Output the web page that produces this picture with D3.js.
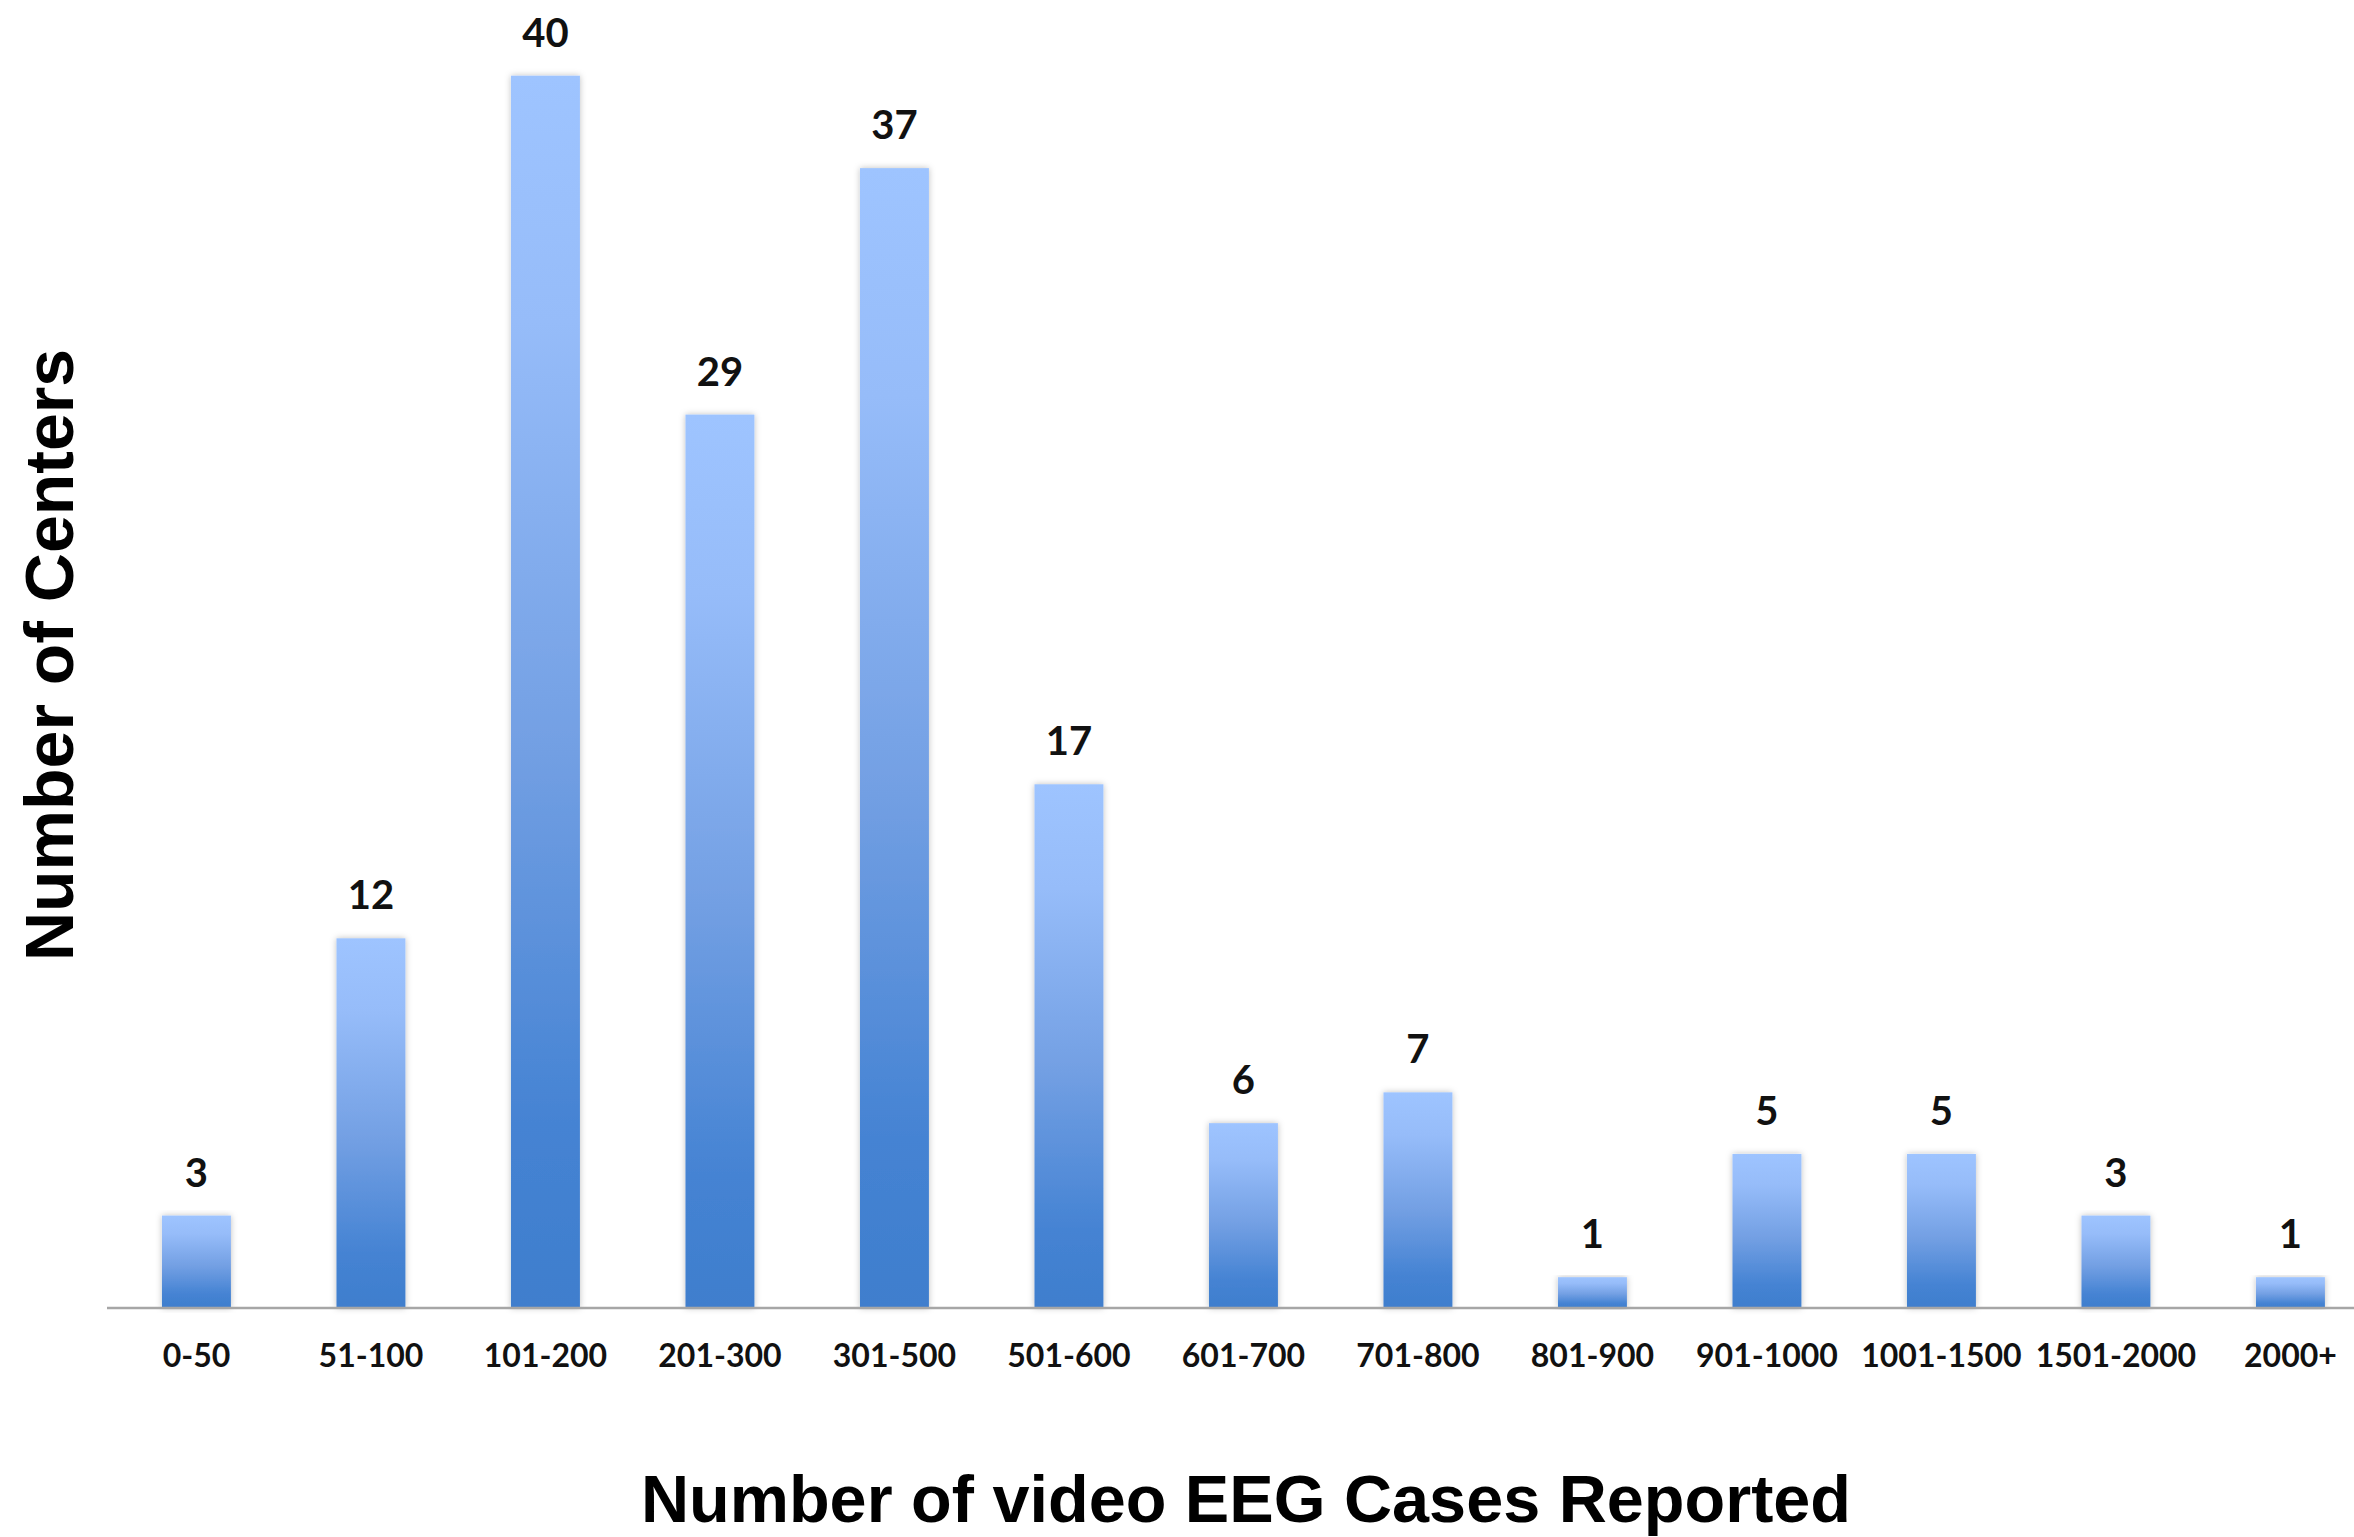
<!DOCTYPE html>
<html>
<head>
<meta charset="utf-8">
<script src="https://cdn.jsdelivr.net/npm/d3@7"></script>
<style>
  html, body { margin: 0; padding: 0; background: #fff; }
  svg { display: block; }
</style>
</head>
<body>
<script>
const categories = ["0-50", "51-100", "101-200", "201-300", "301-500", "501-600", "601-700", "701-800", "801-900", "901-1000", "1001-1500", "1501-2000", "2000+"];
const centers = [3, 12, 40, 29, 37, 17, 6, 7, 1, 5, 5, 3, 1];
const xTitle = "Number of video EEG Cases Reported";
const yTitle = "Number of Centers";

const W = 2354, H = 1537;
const svg = d3.select("body").append("svg").attr("width", W).attr("height", H);

const defs = svg.append("defs");
const grad = defs.append("linearGradient").attr("id", "barGrad")
  .attr("x1", 0).attr("y1", 0).attr("x2", 0).attr("y2", 1);
[[0, "#9ec4ff"], [0.2, "#96bcf9"], [0.55, "#729fe3"], [0.85, "#4583d3"], [1, "#3f7ecd"]]
  .forEach(([o, c]) => grad.append("stop").attr("offset", o).attr("stop-color", c));
const flt = defs.append("filter").attr("id", "shadow")
  .attr("x", "-30%").attr("y", "-5%").attr("width", "160%").attr("height", "110%");
flt.append("feDropShadow").attr("dx", 0).attr("dy", 0).attr("stdDeviation", 3)
  .attr("flood-color", "#000").attr("flood-opacity", 0.25);

const step = 174.5;
const x0 = 109.2;
const x = d3.scaleBand().domain(categories)
  .range([x0, x0 + step * categories.length])
  .paddingInner(0.605).paddingOuter(0.3025);
const y = d3.scaleLinear().domain([0, 40]).range([1308, 75.7]);

// bars
svg.append("g").selectAll("rect").data(categories).join("rect")
  .attr("x", d => x(d))
  .attr("y", (d, i) => y(centers[i]))
  .attr("width", x.bandwidth())
  .attr("height", (d, i) => y(0) - y(centers[i]))
  .attr("fill", "url(#barGrad)")
  .attr("filter", "url(#shadow)");

// baseline axis
const xAxis = d3.axisBottom(x).tickSize(0).tickPadding(0);
const gx = svg.append("g").attr("transform", `translate(0,${y(0)})`).call(xAxis);
gx.select(".domain").remove();
svg.append("line").attr("x1", 107).attr("x2", W).attr("y1", y(0)).attr("y2", y(0))
  .attr("stroke", "#a6a6a6").attr("stroke-width", 2.5);
gx.selectAll(".tick text")
  .attr("y", 59).attr("dy", 0)
  .attr("font-family", "Lato, 'Open Sans', sans-serif")
  .attr("font-weight", 700)
  .attr("font-size", 32)
  .attr("fill", "#111");

// value labels
svg.append("g").selectAll("text").data(categories).join("text")
  .attr("x", d => x(d) + x.bandwidth() / 2)
  .attr("y", (d, i) => y(centers[i]) - 29)
  .attr("text-anchor", "middle")
  .attr("font-family", "Lato, 'Open Sans', sans-serif")
  .attr("font-weight", 700)
  .attr("font-size", 40)
  .attr("fill", "#111")
  .text((d, i) => centers[i]);

// axis titles
svg.append("text")
  .attr("x", 1246).attr("y", 1522)
  .attr("text-anchor", "middle")
  .attr("font-family", "'Liberation Sans', Arial, sans-serif")
  .attr("font-weight", 700)
  .attr("font-size", 66.6)
  .attr("fill", "#000")
  .text(xTitle);

svg.append("text")
  .attr("transform", "translate(73,655) rotate(-90)")
  .attr("text-anchor", "middle")
  .attr("font-family", "'Liberation Sans', Arial, sans-serif")
  .attr("font-weight", 700)
  .attr("font-size", 68)
  .attr("fill", "#000")
  .text(yTitle);
</script>
</body>
</html>
